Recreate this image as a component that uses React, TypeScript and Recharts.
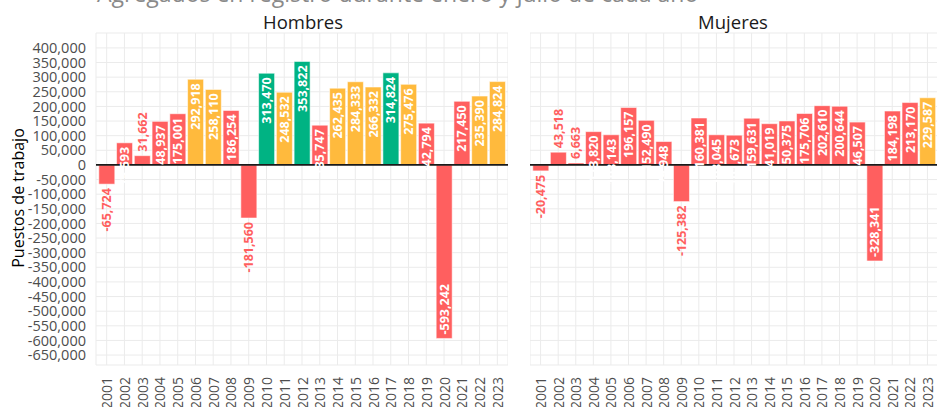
import { BarChart, Bar, XAxis, YAxis, CartesianGrid, ReferenceLine, Cell, LabelList } from 'recharts';

const years = ['2001', '2002', '2003', '2004', '2005', '2006', '2007', '2008', '2009', '2010', '2011', '2012',
    '2013', '2014', '2015', '2016', '2017', '2018', '2019', '2020', '2021', '2022', '2023'];

const hombres = [-65724, 75593, 31662, 148937, 175001, 292918, 258110, 186254, -181560, 313470, 248532, 353822,
    135747, 262435, 284333, 266332, 314824, 275476, 142794, -593242, 217450, 235390, 284824];

const mujeres = [-20475, 43518, 6663, 113820, 103143, 196157, 152490, 79948, -125382, 160381, 103045, 101673,
    159631, 141019, 150375, 175706, 202610, 200644, 146507, -328341, 184198, 213170, 229587];

const yTicks = [400000, 350000, 300000, 250000, 200000, 150000, 100000, 50000, 0, -50000, -100000, -150000,
    -200000, -250000, -300000, -350000, -400000, -450000, -500000, -550000, -600000, -650000];

const RED = '#ff5f5f';
const ORANGE = '#ffba3d';
const GREEN = '#00b383';
const FONT = '"Open Sans", sans-serif';

const fmt = (v: number) => v.toLocaleString('en-US');

function barColor(v: number) {
    if (v >= 300000) return GREEN;
    if (v >= 225000) return ORANGE;
    return RED;
}

function BarLabel(props: any) {
    const { x, y, width, height, value } = props;
    const v = Number(value);
    const cx = x + width / 2;
    const top = Math.min(y, y + height);
    const bottom = Math.max(y, y + height);
    let ay: number;
    let anchor: 'start' | 'end';
    let fill = '#ffffff';
    if (v >= 0) {
        if (v >= 45000) {
            ay = top + 4;
            anchor = 'end';
        } else {
            ay = top - 4;
            anchor = 'start';
            fill = RED;
        }
    } else if (v <= -300000) {
        ay = bottom - 4;
        anchor = 'start';
    } else {
        ay = bottom + 4;
        anchor = 'end';
        fill = RED;
    }
    return (
        <text
            x={cx}
            y={ay}
            transform={`rotate(-90, ${cx}, ${ay})`}
            textAnchor={anchor}
            dominantBaseline="central"
            fill={fill}
            fontSize={12.5}
            fontWeight={700}
            fontFamily={FONT}
        >
            {fmt(v)}
        </text>
    );
}

function YearTick({ x, y, payload }: any) {
    return (
        <text
            transform={`translate(${x}, ${y + 4}) rotate(-90)`}
            textAnchor="end"
            dominantBaseline="central"
            fill="#4d4d4d"
            fontSize={14}
            fontFamily={FONT}
        >
            {payload.value}
        </text>
    );
}

function Panel({ values, showAxis, left, width }: { values: number[]; showAxis: boolean; left: number; width: number }) {
    const data = years.map((year, i) => ({ year, value: values[i] }));
    return (
        <div style={{ position: 'absolute', left, top: 0 }}>
            <BarChart
                width={width}
                height={407}
                data={data}
                margin={{ top: 33, right: 0, bottom: 0, left: 0 }}
                barCategoryGap={1}
            >
                <CartesianGrid stroke="#ebebeb" strokeWidth={1} />
                <XAxis
                    dataKey="year"
                    height={42}
                    axisLine={false}
                    tickLine={false}
                    interval={0}
                    padding={{ left: 1.8, right: 1.8 }}
                    tick={<YearTick />}
                />
                <YAxis
                    type="number"
                    domain={[-684000, 451000]}
                    ticks={yTicks}
                    interval={0}
                    width={showAxis ? 96 : 0}
                    hide={!showAxis}
                    axisLine={false}
                    tickLine={false}
                    tickFormatter={fmt}
                    tick={{ fill: '#4d4d4d', fontSize: 14.5, fontFamily: FONT }}
                    tickMargin={4}
                    allowDataOverflow
                />
                <Bar dataKey="value" isAnimationActive={false} stroke="#ffffff" strokeOpacity={0.55} strokeWidth={1}>
                    {data.map((d) => (
                        <Cell key={d.year} fill={barColor(d.value)} />
                    ))}
                    <LabelList dataKey="value" content={<BarLabel />} />
                </Bar>
                <ReferenceLine y={0} stroke="#1a1a1a" strokeWidth={1.6} />
            </BarChart>
        </div>
    );
}

export default function App() {
    return (
        <div
            style={{
                position: 'fixed',
                left: 0,
                top: 0,
                width: 937,
                height: 407,
                overflow: 'hidden',
                background: '#ffffff',
            }}
        >
            <Panel values={hombres} showAxis left={0} width={508} />
            <Panel values={mujeres} showAxis={false} left={530} width={408} />
            <svg width={937} height={407} style={{ position: 'absolute', left: 0, top: 0, pointerEvents: 'none' }}>
                <text x={97} y={2} fontSize={23} fill="#8a8a8a" fontFamily={FONT}>
                    Agregados en registro durante enero y julio de cada año
                </text>
                <text x={303} y={29} textAnchor="middle" fontSize={18.5} fill="#1a1a1a" fontFamily={FONT}>
                    Hombres
                </text>
                <text x={733} y={29} textAnchor="middle" fontSize={18.5} fill="#1a1a1a" fontFamily={FONT}>
                    Mujeres
                </text>
                <text
                    transform="translate(18, 198) rotate(-90)"
                    textAnchor="middle"
                    dominantBaseline="central"
                    fontSize={16}
                    fill="#000000"
                    fontFamily={FONT}
                >
                    Puestos de trabajo
                </text>
            </svg>
        </div>
    );
}
